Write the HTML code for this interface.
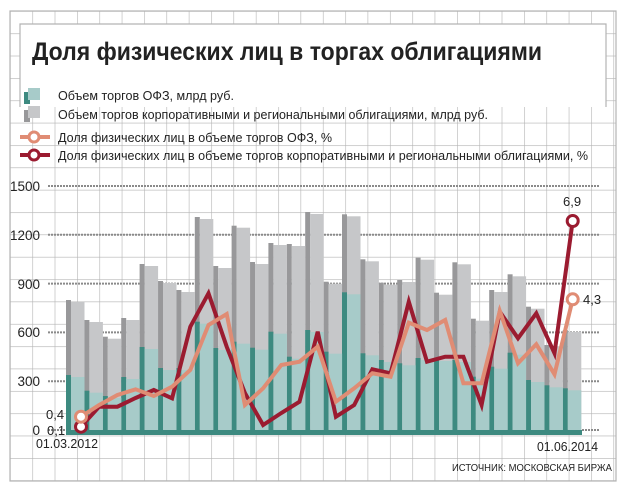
<!DOCTYPE html>
<html><head><meta charset="utf-8"><style>
html,body{margin:0;padding:0;background:#fff;}
svg{display:block;font-family:"Liberation Sans",sans-serif;}
</style></head><body>
<svg width="624" height="488" viewBox="0 0 624 488" xmlns="http://www.w3.org/2000/svg">
<defs>
<pattern id="g" x="10" y="11" width="22.35" height="22.35" patternUnits="userSpaceOnUse">
<path d="M0 0H22.35M0 0V22.35" stroke="#b3b3b3" stroke-width="1.2" fill="none"/>
</pattern>
</defs>
<rect x="0" y="0" width="624" height="488" fill="#fff"/>
<rect x="10" y="11" width="606" height="470" fill="url(#g)"/>
<rect x="10" y="11" width="606" height="470" fill="none" stroke="#b3b3b3" stroke-width="1.2"/>
<path d="M20 107V24H606V107" fill="#fff" stroke="#b3b3b3" stroke-width="1.2"/>
<text x="32" y="60" font-size="25" font-weight="bold" fill="#222" textLength="510" lengthAdjust="spacingAndGlyphs">Доля физических лиц в торгах облигациями</text>

<!-- legend -->
<rect x="24" y="92" width="6" height="12" fill="#3d8a80"/><rect x="28" y="88" width="12" height="12" fill="#a7cbc9"/>
<rect x="24" y="110" width="6" height="12" fill="#98989a"/><rect x="28" y="106" width="12" height="12" fill="#c6c7c9"/>
<line x1="20" y1="137" x2="50" y2="137" stroke="#e08c74" stroke-width="4"/><circle cx="34" cy="137" r="5" fill="#fff" stroke="#e08c74" stroke-width="3"/>
<line x1="20" y1="155" x2="50" y2="155" stroke="#9b1b30" stroke-width="4"/><circle cx="34" cy="155" r="5" fill="#fff" stroke="#9b1b30" stroke-width="3"/>
<g font-size="12.5" fill="#222">
<text x="58" y="100" textLength="176" lengthAdjust="spacingAndGlyphs">Объем торгов ОФЗ, млрд руб.</text>
<text x="58" y="119" textLength="430" lengthAdjust="spacingAndGlyphs">Объем торгов корпоративными и региональными облигациями, млрд руб.</text>
<text x="58" y="142" textLength="274" lengthAdjust="spacingAndGlyphs">Доля физических лиц в объеме торгов ОФЗ, %</text>
<text x="58" y="160" textLength="530" lengthAdjust="spacingAndGlyphs">Доля физических лиц в объеме торгов корпоративными и региональными облигациями, %</text>
</g>

<!-- dotted value lines -->
<g stroke="#8a8a8a" stroke-width="2" stroke-dasharray="2,1">
<line x1="48" y1="186" x2="600" y2="186"/>
<line x1="48" y1="234.8" x2="600" y2="234.8"/>
<line x1="48" y1="283.6" x2="600" y2="283.6"/>
<line x1="48" y1="332.4" x2="600" y2="332.4"/>
<line x1="48" y1="381.2" x2="600" y2="381.2"/>
<line x1="48" y1="430" x2="600" y2="430"/>
</g>
<g font-size="13.5" fill="#222" text-anchor="end">
<text x="40" y="191">1500</text>
<text x="40" y="240">1200</text>
<text x="40" y="289">900</text>
<text x="40" y="337">600</text>
<text x="40" y="386">300</text>
<text x="40" y="435">0</text>
</g>

<!-- bars gray -->
<g fill="#98989a">
<rect x="66" y="300" width="5" height="135"/><rect x="84.4" y="320" width="5" height="115"/><rect x="102.8" y="336.7" width="5" height="98.3"/><rect x="121.2" y="318" width="5" height="117"/><rect x="139.6" y="264" width="5" height="171"/><rect x="158" y="281" width="5" height="154"/><rect x="176.4" y="290" width="5" height="145"/><rect x="194.8" y="217" width="5" height="218"/><rect x="213.2" y="266" width="5" height="169"/><rect x="231.6" y="225.7" width="5" height="209.3"/><rect x="250" y="262" width="5" height="173"/><rect x="268.4" y="243" width="5" height="192"/><rect x="286.8" y="244" width="5" height="191"/><rect x="305.2" y="212" width="5" height="223"/><rect x="323.6" y="281.7" width="5" height="153.3"/><rect x="342" y="214.3" width="5" height="220.7"/><rect x="360.4" y="259.3" width="5" height="175.7"/><rect x="378.8" y="282.7" width="5" height="152.3"/><rect x="397.2" y="280" width="5" height="155"/><rect x="415.6" y="257.7" width="5" height="177.3"/><rect x="434" y="292.7" width="5" height="142.3"/><rect x="452.4" y="262.3" width="5" height="172.7"/><rect x="470.8" y="318.7" width="5" height="116.3"/><rect x="489.2" y="290" width="5" height="145"/><rect x="507.6" y="274.3" width="5" height="160.7"/><rect x="526" y="306.7" width="5" height="128.3"/><rect x="544.4" y="345" width="5" height="90"/><rect x="562.8" y="330" width="5" height="105"/>
</g>
<g fill="#c6c7c9">
<rect x="71" y="302" width="13.5" height="133"/><rect x="89.4" y="322" width="13.5" height="113"/><rect x="107.8" y="338.7" width="13.5" height="96.3"/><rect x="126.2" y="320" width="13.5" height="115"/><rect x="144.6" y="266" width="13.5" height="169"/><rect x="163" y="283" width="13.5" height="152"/><rect x="181.4" y="292" width="13.5" height="143"/><rect x="199.8" y="219" width="13.5" height="216"/><rect x="218.2" y="268" width="13.5" height="167"/><rect x="236.6" y="227.7" width="13.5" height="207.3"/><rect x="255" y="264" width="13.5" height="171"/><rect x="273.4" y="245" width="13.5" height="190"/><rect x="291.8" y="246" width="13.5" height="189"/><rect x="310.2" y="214" width="13.5" height="221"/><rect x="328.6" y="283.7" width="13.5" height="151.3"/><rect x="347" y="216.3" width="13.5" height="218.7"/><rect x="365.4" y="261.3" width="13.5" height="173.7"/><rect x="383.8" y="284.7" width="13.5" height="150.3"/><rect x="402.2" y="282" width="13.5" height="153"/><rect x="420.6" y="259.7" width="13.5" height="175.3"/><rect x="439" y="294.7" width="13.5" height="140.3"/><rect x="457.4" y="264.3" width="13.5" height="170.7"/><rect x="475.8" y="320.7" width="13.5" height="114.3"/><rect x="494.2" y="292" width="13.5" height="143"/><rect x="512.6" y="276.3" width="13.5" height="158.7"/><rect x="531" y="308.7" width="13.5" height="126.3"/><rect x="549.4" y="347" width="13.5" height="88"/><rect x="567.8" y="332" width="13.5" height="103"/>
</g>
<!-- bars teal -->
<g fill="#3d8a80">
<rect x="66" y="375" width="5" height="60"/><rect x="84.4" y="390.7" width="5" height="44.3"/><rect x="102.8" y="396" width="5" height="39"/><rect x="121.2" y="377" width="5" height="58"/><rect x="139.6" y="347" width="5" height="88"/><rect x="158" y="368" width="5" height="67"/><rect x="176.4" y="368" width="5" height="67"/><rect x="194.8" y="321.7" width="5" height="113.3"/><rect x="213.2" y="348" width="5" height="87"/><rect x="231.6" y="341.7" width="5" height="93.3"/><rect x="250" y="347.7" width="5" height="87.3"/><rect x="268.4" y="331.7" width="5" height="103.3"/><rect x="286.8" y="356.7" width="5" height="78.3"/><rect x="305.2" y="330" width="5" height="105"/><rect x="323.6" y="351.7" width="5" height="83.3"/><rect x="342" y="292.3" width="5" height="142.7"/><rect x="360.4" y="353.3" width="5" height="81.7"/><rect x="378.8" y="360" width="5" height="75"/><rect x="397.2" y="363.3" width="5" height="71.7"/><rect x="415.6" y="358" width="5" height="77"/><rect x="434" y="359" width="5" height="76"/><rect x="452.4" y="360" width="5" height="75"/><rect x="470.8" y="376.7" width="5" height="58.3"/><rect x="489.2" y="366.7" width="5" height="68.3"/><rect x="507.6" y="352.7" width="5" height="82.3"/><rect x="526" y="380" width="5" height="55"/><rect x="544.4" y="385.3" width="5" height="49.7"/><rect x="562.8" y="388.3" width="5" height="46.7"/>
<rect x="66" y="430" width="516" height="5"/>
</g>
<g fill="#a7cbc9">
<rect x="71" y="377" width="13.5" height="53"/><rect x="89.4" y="392.7" width="13.5" height="37.3"/><rect x="107.8" y="398" width="13.5" height="32"/><rect x="126.2" y="379" width="13.5" height="51"/><rect x="144.6" y="349" width="13.5" height="81"/><rect x="163" y="370" width="13.5" height="60"/><rect x="181.4" y="370" width="13.5" height="60"/><rect x="199.8" y="323.7" width="13.5" height="106.3"/><rect x="218.2" y="350" width="13.5" height="80"/><rect x="236.6" y="343.7" width="13.5" height="86.3"/><rect x="255" y="349.7" width="13.5" height="80.3"/><rect x="273.4" y="333.7" width="13.5" height="96.3"/><rect x="291.8" y="358.7" width="13.5" height="71.3"/><rect x="310.2" y="332" width="13.5" height="98"/><rect x="328.6" y="353.7" width="13.5" height="76.3"/><rect x="347" y="294.3" width="13.5" height="135.7"/><rect x="365.4" y="355.3" width="13.5" height="74.7"/><rect x="383.8" y="362" width="13.5" height="68"/><rect x="402.2" y="365.3" width="13.5" height="64.7"/><rect x="420.6" y="360" width="13.5" height="70"/><rect x="439" y="361" width="13.5" height="69"/><rect x="457.4" y="362" width="13.5" height="68"/><rect x="475.8" y="378.7" width="13.5" height="51.3"/><rect x="494.2" y="368.7" width="13.5" height="61.3"/><rect x="512.6" y="354.7" width="13.5" height="75.3"/><rect x="531" y="382" width="13.5" height="48"/><rect x="549.4" y="387.3" width="13.5" height="42.7"/><rect x="567.8" y="390.3" width="13.5" height="39.7"/>
</g>

<!-- lines -->
<polyline fill="none" stroke="#9b1b30" stroke-width="4" stroke-linejoin="miter" points="81,426.7 99.2,406.7 117.4,406.7 135.6,398 153.8,390 172.1,398.3 190.3,326.7 208.5,293.3 226.7,346.7 244.9,393 263.1,425 281.3,413 299.5,401.7 317.7,331.7 335.9,416.7 354.2,405 372.4,369.3 390.6,373.3 408.8,301.7 427,361.7 445.2,356.7 463.4,356.7 481.6,405 499.8,311.7 518,338.3 536.3,313.3 554.5,353.3 572.7,221"/>
<polyline fill="none" stroke="#e08c74" stroke-width="4" points="81,416.7 99.2,405 117.4,395 135.6,389.3 153.8,396 172.1,386.7 190.3,370 208.5,325 226.7,314 244.9,405 263.1,388.3 281.3,365 299.5,361.7 317.7,346.7 335.9,401.7 354.2,388.3 372.4,373.3 390.6,376.7 408.8,322.7 427,330 445.2,320 463.4,383.3 481.6,383.3 499.8,311 518,363.3 536.3,344.3 554.5,374.3 572.7,299.3"/>
<circle cx="81" cy="426.7" r="5.5" fill="#fff" stroke="#9b1b30" stroke-width="3"/>
<circle cx="81" cy="416.7" r="5.5" fill="#fff" stroke="#e08c74" stroke-width="3"/>
<circle cx="572.7" cy="221" r="5.5" fill="#fff" stroke="#9b1b30" stroke-width="3"/>
<circle cx="572.7" cy="299.3" r="5.5" fill="#fff" stroke="#e08c74" stroke-width="3"/>

<g font-size="13" fill="#222">
<text x="46" y="419">0,4</text>
<text x="47" y="435">0,1</text>
<text x="36" y="448" textLength="62" lengthAdjust="spacingAndGlyphs">01.03.2012</text>
<text x="537" y="451" textLength="61" lengthAdjust="spacingAndGlyphs">01.06.2014</text>
<text x="563" y="206">6,9</text>
<text x="583" y="304">4,3</text>
</g>
<text x="612" y="471" font-size="10" fill="#222" text-anchor="end" textLength="160" lengthAdjust="spacingAndGlyphs">ИСТОЧНИК: МОСКОВСКАЯ БИРЖА</text>
</svg>
</body></html>
